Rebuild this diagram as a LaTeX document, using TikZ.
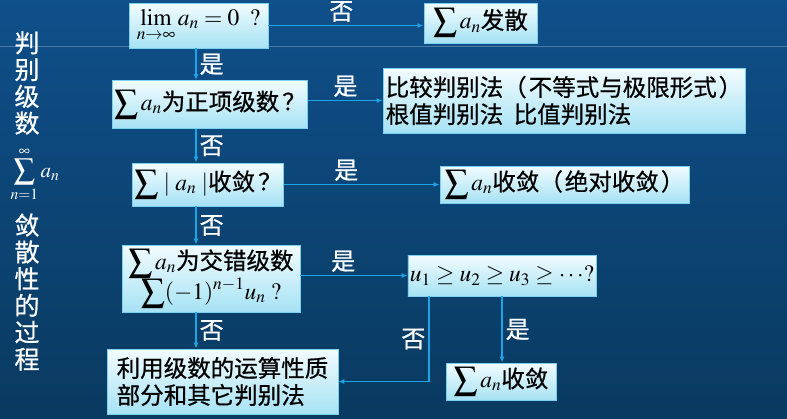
\documentclass[tikz,border=0pt]{standalone}
\usepackage{mathptmx}
\usepackage[no-math]{fontspec}
\setmainfont{Liberation Serif}
\newfontfamily\cjk[FakeBold=0.7]{Noto Sans CJK SC}
\usetikzlibrary{arrows.meta, positioning, calc}
\definecolor{bgtop}{HTML}{0F4F8A}
\definecolor{bgmid}{HTML}{0B4577}
\definecolor{bgbot}{HTML}{093A60}
\definecolor{boxtop}{HTML}{F2FCFF}
\definecolor{boxbot}{HTML}{A6E2F4}
\definecolor{boxline}{HTML}{7CD2EE}
\definecolor{arrcolor}{HTML}{1CA4E6}
\newcommand{\suman}{\displaystyle\sum a_n}

\begin{document}
\begin{tikzpicture}[
    x=1pt, y=-1pt,
    every node/.style={font=\cjk\fontsize{23.5}{27}\selectfont},
    box/.style={
        rectangle, draw=boxline, line width=0.8pt,
        top color=boxtop, bottom color=boxbot, text=black,
        inner sep=2pt, align=center,
    },
    arr/.style={-{Latex[length=6pt, width=5pt]}, line width=1.3pt, color=arrcolor},
    lab/.style={text=white, inner sep=3pt, font=\cjk\fontsize{24}{27}\selectfont},
    side/.style={text=white, align=center, inner sep=1pt, font=\cjk\fontsize{25}{26.8}\selectfont},
]

% ================================================ background
\useasboundingbox (0,0) rectangle (787,418);
\shade[top color=bgtop, middle color=bgmid, bottom color=bgbot] (0,0) rectangle (787,418);
\draw[white, opacity=0.25, line width=0.6pt] (0,46.5) -- (787,46.5);

% ================================================ left title
\node[side] (t1) at (27,83) {判\\别\\级\\数};
\node[text=white, inner sep=0pt, font=\fontsize{21}{24}\selectfont] (t2) at (35,174)
    {$\displaystyle\sum_{n=1}^{\infty} a_n$};
\node[side] (t3) at (27,292) {敛\\散\\性\\的\\过\\程};

% ================================================ the tests
\node[box, minimum width=139pt, minimum height=45pt] (lim) at (198.5,25.5)
    {$\lim\limits_{n\to\infty} a_n = 0\ \ ?$};
\node[box, minimum width=113pt, minimum height=40pt] (div) at (480.5,23)
    {$\suman$发散};
\node[box, minimum width=190pt, minimum height=48pt] (pos) at (210,104.5)
    {$\suman$为正项级数\hspace{3pt}？};
\node[box, minimum width=362pt, minimum height=65pt, align=left] (cmp) at (564,100.5)
    {比较判别法（\hspace{2pt}不等式与极限形式\hspace{2pt}）\\根值判别法\ \ 比值判别法};
\node[box, minimum width=144pt, minimum height=43pt] (abs) at (208,184.5)
    {$\displaystyle\sum\,|\;a_n\;|$收敛\hspace{3pt}？};
\node[box, minimum width=249pt, minimum height=37pt] (absc) at (564.5,184.5)
    {$\suman$收敛（\hspace{2pt}绝对收敛\hspace{2pt}）};
\node[box, minimum width=178pt, minimum height=67pt] (alt) at (211,278.5)
    {$\suman$为交错级数\\[-1pt]$\displaystyle\sum (-1)^{n-1}u_n\ ?$};
\node[box, minimum width=180pt, minimum height=41pt] (mono) at (502,275.5)
    {$u_1\geq u_2\geq u_3\geq\cdots ?$};
\node[box, minimum width=231pt, minimum height=65pt, align=left] (rest) at (222.5,381.5)
    {利用级数的运算性质\\部分和其它判别法};
\node[box, minimum width=110pt, minimum height=37pt] (conv) at (501,381.5)
    {$\suman$收敛};

% spine and branch columns
\coordinate (sp) at (196,0);
\coordinate (nx) at (429,0);
\coordinate (yx) at (502,0);

% ================================================ connectors
\draw[arr] (lim.east) -- node[lab, above, pos=0.47] {否} (lim.east -| div.west);
\draw[arr] (lim.south -| sp) -- node[lab, right] {是} (pos.north -| sp);
\draw[arr] (pos.east |- cmp) -- node[lab, above] {是} (cmp.west);
\draw[arr] (pos.south -| sp) -- node[lab, right] {否} (abs.north -| sp);
\draw[arr] (abs.east) -- node[lab, above, pos=0.4] {是} (absc.west);
\draw[arr] (abs.south -| sp) -- node[lab, right] {否} (alt.north -| sp);
\draw[arr] (alt.east |- mono) -- node[lab, above, pos=0.4] {是} (mono.west);
\draw[arr] (alt.south -| sp) -- node[lab, right] {否} (rest.north -| sp);
\draw[arr] (mono.south -| nx) |- node[lab, left, pos=0.25] {否} (rest.east);
\draw[arr] (mono.south -| yx) -- node[lab, right] {是} (conv.north -| yx);

\end{tikzpicture}
\end{document}
